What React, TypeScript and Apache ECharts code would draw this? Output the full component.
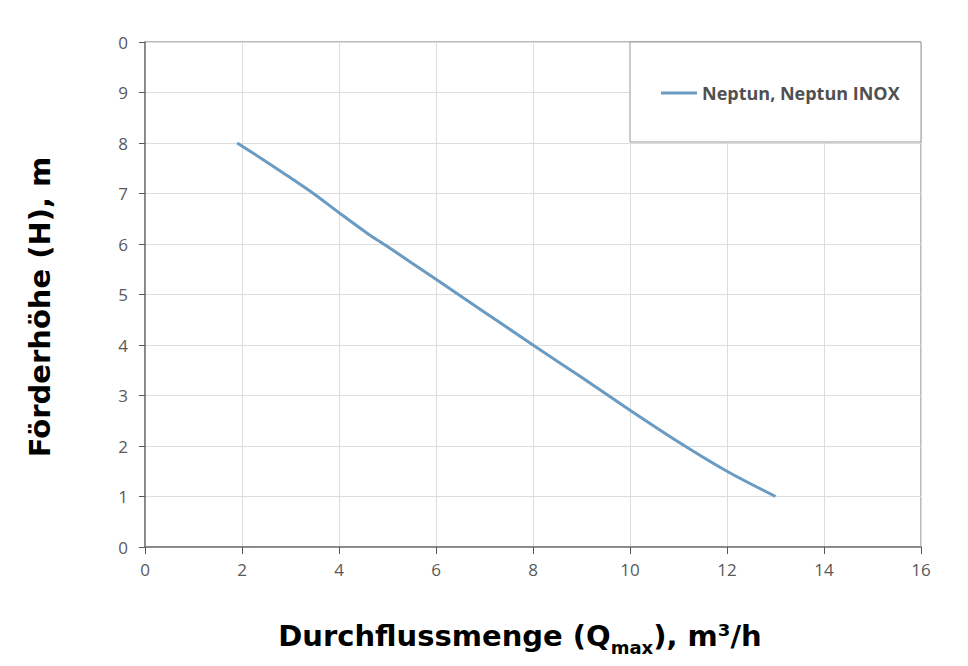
import React, { useEffect, useRef } from "react";
import * as echarts from "echarts";

const seriesName = "Neptun, Neptun INOX";
const flowValues = [1.9, 2.5, 3.0, 3.5, 4.0, 4.6, 5.0, 6.0, 7.0, 8.0, 9.0, 10.0, 11.0, 12.0, 13.0];
const headValues = [8.0, 7.63, 7.31, 6.98, 6.62, 6.2, 5.95, 5.3, 4.65, 4.0, 3.36, 2.71, 2.08, 1.5, 1.0];
const yTickLabels = ["0", "1", "2", "3", "4", "5", "6", "7", "8", "9", "0"];
const xTickLabels = ["0", "2", "4", "6", "8", "10", "12", "14", "16"];
const xTitle = "Durchflussmenge (Q";
const xTitleSub = "max";
const xTitleEnd = "), m³/h";
const yTitle = "Förderhöhe (H), m";

export default function App() {
  const ref = useRef<HTMLDivElement>(null);
  useEffect(() => {
    if (!ref.current) return;
    const chart = echarts.init(ref.current, null, { renderer: "svg" });
    const titleFont = "DejaVu Sans";
    chart.setOption({
      animation: false,
      backgroundColor: "#ffffff",
      grid: {
        left: 145,
        right: 47,
        top: 42,
        bottom: 119,
        show: true,
        borderColor: "#777777",
        borderWidth: 1,
      },
      legend: {
        show: true,
        left: 656,
        top: 79,
        itemWidth: 36,
        itemHeight: 3,
        itemGap: 4,
        icon: "rect",
        z: 20,
        textStyle: {
          fontFamily: "Open Sans",
          fontWeight: "bold",
          fontSize: 18,
          color: "#505050",
          padding: [0, 0, 0, 0],
        },
        data: [{ name: seriesName, itemStyle: { color: "#6a9bc3" } }],
      },
      graphic: [
        {
          type: "rect",
          z: 10,
          shape: { x: 630, y: 42, width: 291, height: 100 },
          style: { fill: "#ffffff", stroke: "#999999", lineWidth: 1 },
        },
        {
          type: "text",
          z: 10,
          x: 520,
          y: 636,
          style: {
            text: `{a|${xTitle}}{s|${xTitleSub}}{a|${xTitleEnd}}`,
            align: "center",
            verticalAlign: "middle",
            rich: {
              a: { fontFamily: titleFont, fontWeight: "bold", fontSize: 29, fill: "#000000" },
              s: { fontFamily: titleFont, fontWeight: "bold", fontSize: 18, fill: "#000000", padding: [22, 0, 0, 0] },
            },
          },
        },
        {
          type: "text",
          z: 10,
          rotation: Math.PI / 2,
          x: 40,
          y: 307,
          style: {
            text: yTitle,
            fontFamily: titleFont,
            fontWeight: "bold",
            fontSize: 29,
            fill: "#000000",
            align: "center",
            verticalAlign: "middle",
          },
        },
      ],
      xAxis: {
        type: "value",
        min: 0,
        max: 16,
        interval: 2,
        axisLine: { show: true, lineStyle: { color: "#777777", width: 1.5 } },
        axisTick: { show: true, length: 7, lineStyle: { color: "#555555" } },
        splitLine: { show: true, lineStyle: { color: "#dddddd", width: 1 } },
        axisLabel: {
          fontFamily: "Open Sans",
          fontSize: 17,
          color: "#595959",
          margin: 14,
          formatter: (v: number) => xTickLabels[Math.round(v / 2)] ?? "",
        },
      },
      yAxis: {
        type: "value",
        min: 0,
        max: 10,
        interval: 1,
        axisLine: { show: true, lineStyle: { color: "#777777", width: 1.5 } },
        axisTick: { show: true, length: 6, lineStyle: { color: "#555555" } },
        splitLine: { show: true, lineStyle: { color: "#dddddd", width: 1 } },
        axisLabel: {
          fontFamily: "Open Sans",
          fontSize: 17,
          color: "#595959",
          margin: 17,
          formatter: (v: number) => yTickLabels[Math.round(v)] ?? "",
        },
      },
      series: [
        {
          name: seriesName,
          type: "line",
          data: flowValues.map((x, i) => [x, headValues[i]]),
          smooth: 0.3,
          showSymbol: false,
          symbol: "none",
          lineStyle: { color: "#6a9bc3", width: 3 },
          itemStyle: { color: "#6a9bc3" },
          z: 3,
        },
      ],
    });
    return () => chart.dispose();
  }, []);
  return (
    <div
      ref={ref}
      style={{ position: "fixed", left: 0, top: 0, width: 968, height: 666 }}
    />
  );
}
